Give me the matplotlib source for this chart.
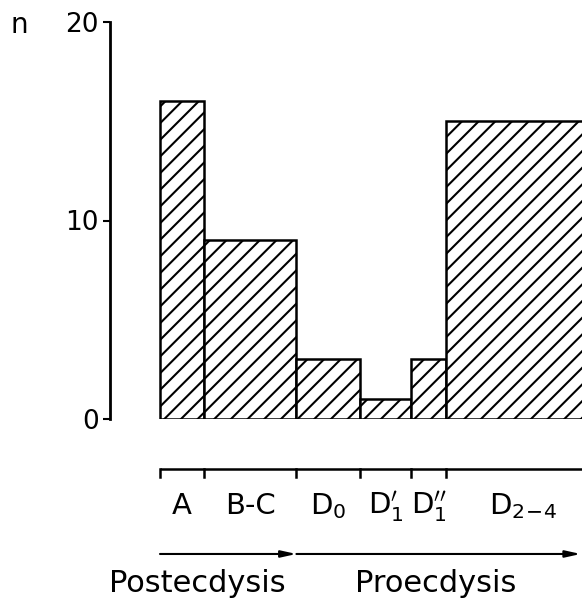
import numpy as np
import matplotlib
matplotlib.use("Agg")
import matplotlib.pyplot as plt

# ---- data ----
stages = ['A', 'B-C', r'D$_0$', r'D$_1^{\prime}$', r'D$_1^{\prime\prime}$', r'D$_{2\!-\!4}$']
durations = [10, 21, 14.5, 11.5, 8, 35]      # relative stage durations (bar widths)
counts = [16, 9, 3, 1, 3, 15]                # n per stage
yticks = [0, 10, 20]
phases = ['Postecdysis', 'Proecdysis']

plt.rcParams['font.family'] = ['DejaVu Sans']
plt.rcParams['hatch.linewidth'] = 1.5

W, H = 582, 602
fig = plt.figure(figsize=(W / 100, H / 100), dpi=100)
ax = fig.add_axes([110 / W, (H - 419) / H, 1 - 110 / W, (419 - 22) / H])

edges = np.concatenate([[0], np.cumsum(durations)])
lefts = edges[:-1]
centers = lefts + np.array(durations) / 2

ax.bar(lefts, counts, width=durations, align='edge', facecolor='white',
       edgecolor='black', hatch='//', linewidth=1.8)

ax.set_xlim(-11.36, 95.9)
ax.set_ylim(0, 20)
for s in ['top', 'right', 'bottom']:
    ax.spines[s].set_visible(False)
ax.spines['left'].set_linewidth(2)
ax.spines['left'].set_bounds(0, 20)
ax.set_xticks([])
ax.set_yticks(yticks)
ax.tick_params(axis='y', direction='out', length=5, width=1.5, pad=3, labelsize=19)

# y-axis label "n"
fig.text(19 / W, 1 - 33 / H, 'n', fontsize=20, ha='center', va='baseline')

# lower stage scale
y_scale = -2.5
ax.plot([edges[0], 95.9], [y_scale, y_scale], color='black', lw=1.8, clip_on=False,
        solid_capstyle='butt')
for e in edges[:-1]:
    ax.plot([e, e], [y_scale, y_scale - 0.42], color='black', lw=1.8, clip_on=False)
for c, lab in zip(centers, stages):
    ax.text(c, -4.8, lab, ha='center', va='baseline', fontsize=21)

# phase arrows
y_arr = -6.8
post_end = edges[2]
ax.annotate('', xy=(post_end, y_arr), xytext=(edges[0], y_arr),
            arrowprops=dict(arrowstyle='-|>,head_length=0.9,head_width=0.2',
                            color='black', lw=1.5, shrinkA=0, shrinkB=0),
            annotation_clip=False)
ax.annotate('', xy=(95.6, y_arr), xytext=(post_end, y_arr),
            arrowprops=dict(arrowstyle='-|>,head_length=0.9,head_width=0.2',
                            color='black', lw=1.5, shrinkA=0, shrinkB=0),
            annotation_clip=False)

fig.text(197 / W, 1 - 592 / H, phases[0], ha='center', va='baseline', fontsize=22)
fig.text(436 / W, 1 - 592 / H, phases[1], ha='center', va='baseline', fontsize=22)

fig.savefig('out.png', dpi=100, facecolor='white')
